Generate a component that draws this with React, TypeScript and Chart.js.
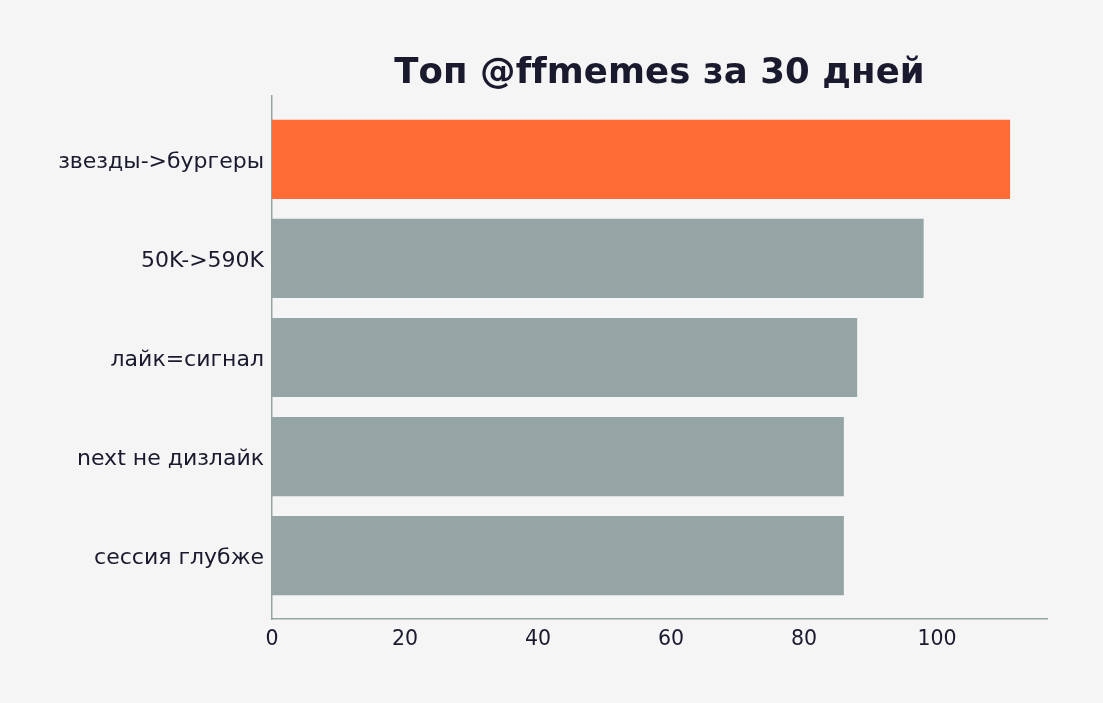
import { useEffect, useRef } from 'react';
import { Chart, registerables } from 'chart.js';

Chart.register(...registerables);

const categories = ['звезды->бургеры', '50K->590K', 'лайк=сигнал', 'next не дизлайк', 'сессия глубже'];
const values = [111, 98, 88, 86, 86];
const barColors = ['#ff6b35', '#95a5a6', '#95a5a6', '#95a5a6', '#95a5a6'];
const xTicks = [0, 20, 40, 60, 80, 100];

const TITLE = 'Топ @ffmemes за 30 дней';
const FONT = '"DejaVu Sans", sans-serif';
const INK = '#1a1a2e';
const AXIS = '#95a5a6';

// title centred over the plot area, not the whole canvas
const titlePlugin = {
  id: 'plotTitle',
  afterDraw(chart: any) {
    const { ctx, chartArea } = chart;
    ctx.save();
    ctx.font = `bold 35.5px ${FONT}`;
    ctx.letterSpacing = '0.1px'; // keeps "ff" from turning into a ligature
    ctx.fillStyle = INK;
    ctx.textAlign = 'center';
    ctx.textBaseline = 'middle';
    ctx.fillText(TITLE, (chartArea.left + chartArea.right) / 2, 74);
    ctx.restore();
  },
};

const App = () => {
  const canvasRef = useRef<HTMLCanvasElement>(null);

  useEffect(() => {
    if (!canvasRef.current) return;
    const chart = new Chart(canvasRef.current, {
      type: 'bar',
      data: {
        datasets: [
          {
            data: values.map((v, i) => ({ x: v, y: i })),
            backgroundColor: barColors,
            barPercentage: 0.8,
            categoryPercentage: 1,
          },
        ],
      },
      options: {
        indexAxis: 'y',
        animation: false,
        responsive: true,
        maintainAspectRatio: false,
        layout: { padding: { top: 96, right: 56, left: 0, bottom: 0 } },
        plugins: { legend: { display: false }, tooltip: { enabled: false } },
        scales: {
          x: {
            type: 'linear',
            min: 0,
            max: 116.55,
            grid: { display: false, drawTicks: false },
            border: { display: true, color: AXIS, width: 1.5 },
            afterBuildTicks: (scale: any) => {
              scale.ticks = xTicks.map((v) => ({ value: v }));
            },
            afterFit: (scale: any) => {
              scale.height = 84;
            },
            ticks: { color: INK, font: { family: FONT, size: 20.5 }, padding: 8 },
          },
          y: {
            type: 'linear',
            reverse: true,
            offset: false,
            min: -0.64,
            max: 4.64,
            grid: { display: false, drawTicks: false },
            border: { display: true, color: AXIS, width: 1.5 },
            afterBuildTicks: (scale: any) => {
              scale.ticks = categories.map((_, i) => ({ value: i }));
            },
            afterFit: (scale: any) => {
              scale.width = 272;
            },
            ticks: {
              color: INK,
              font: { family: FONT, size: 22 },
              padding: 8,
              labelOffset: 3,
              callback: (v: any) => categories[v as number] ?? '',
            },
          },
        },
      },
      plugins: [titlePlugin],
    } as any);
    return () => chart.destroy();
  }, []);

  return (
    <div style={{ position: 'fixed', inset: 0, background: '#f5f5f5' }}>
      <canvas ref={canvasRef} />
    </div>
  );
};

export default App;
